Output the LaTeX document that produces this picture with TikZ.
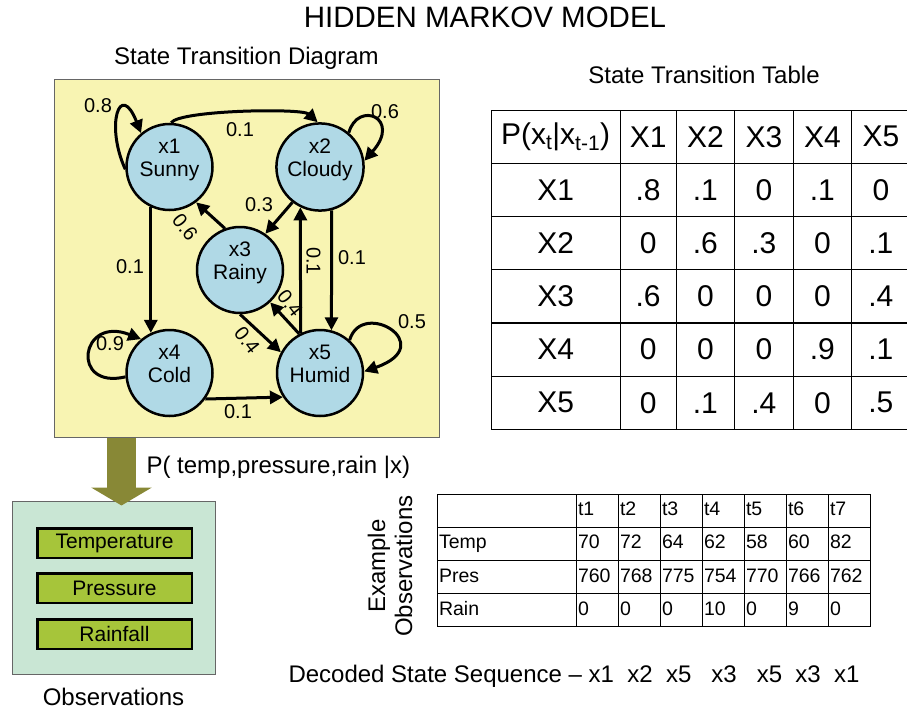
\documentclass[tikz,border=0pt]{standalone}
\usepackage{fontspec}
\setmainfont{Liberation Sans}
\usetikzlibrary{arrows.meta,matrix}

\definecolor{diagyellow}{RGB}{248,244,178}
\definecolor{stateblue}{RGB}{176,217,230}
\definecolor{obsmint}{RGB}{201,230,212}
\definecolor{obsgreen}{RGB}{166,197,58}
\definecolor{feedolive}{RGB}{136,136,54}

\tikzset{
	state/.style={circle, draw, line width=2.5pt, fill=stateblue, minimum size=86pt, inner sep=0pt,
		align=center, font=\fontsize{21}{23}\selectfont, text height=38pt, text depth=20pt},
	trans/.style={line width=3pt, -{Triangle[length=13pt,width=13pt]}},
	prob/.style={font=\fontsize{20}{22}\selectfont, inner sep=0pt},
	heading/.style={font=\fontsize{24}{27}\selectfont, anchor=base},
	obsbar/.style={draw, line width=2.5pt, fill=obsgreen, minimum width=154.5pt, minimum height=29.5pt,
		font=\fontsize{21}{23}\selectfont},
	feed/.style={line width=29pt, feedolive, -{Triangle[length=18pt,width=60pt]}}
}

\begin{document}
\begin{tikzpicture}[x=1pt, y=-1pt]
	\useasboundingbox (0,0) rectangle (907,709);

	% Overskrifter
	\node[font=\fontsize{29.5}{32}\selectfont, anchor=base] (title) at (485,28) {HIDDEN MARKOV MODEL};
	\node[heading] (diaghead) at (246.5,65) {State Transition Diagram};
	\node[heading] (tabhead) at (704,84) {State Transition Table};

	% Bakgrunn for diagrammet
	\node[draw=black!60, line width=1pt, fill=diagyellow, minimum width=385pt, minimum height=358pt] (diagbox) at (246.5,258) {};

	% Tilstander
	\node[state] (sunny) at (169.5,167) {x1\\Sunny};
	\node[state] (cloudy) at (320,167) {x2\\Cloudy};
	\node[state] (rainy) at (240,270) {x3\\Rainy};
	\node[state] (cold) at (169.5,373) {x4\\Cold};
	\node[state] (humid) at (320,373) {x5\\Humid};

	% Overganger
	\draw[trans] (sunny.183) .. controls (105,125) and (120,80) .. (sunny.130);
	\draw[trans] (sunny.88) .. controls (180,110) and (302,108) .. (cloudy.93);
	\draw[trans] (cloudy.50) .. controls (358,100) and (402,118) .. (cloudy.8);
	\draw[trans] (cloudy.232) -- (rainy.55);
	\draw[trans] (rainy.110) -- (sunny.307);
	\draw[trans] (sunny.245) -- (cold.115);
	\draw[trans] (humid.116) -- (cloudy.244);
	\draw[trans] (cloudy.285) -- (humid.75);
	\draw[trans] (rainy.270) -- (humid.152);
	\draw[trans] (humid.118) -- (rainy.313);
	\draw[trans] (cold.185) .. controls (70,390) and (80,315) .. (cold.130);
	\draw[trans] (humid.48) .. controls (362,298) and (440,345) .. (humid.2);
	\draw[trans] (cold.324) -- (humid.213);

	% Sannsynligheter
	\node[prob] (p11) at (98,106) {0.8};
	\node[prob] (p12) at (240,130) {0.1};
	\node[prob] (p22) at (385,112) {0.6};
	\node[prob] (p23) at (259,205) {0.3};
	\node[prob, rotate=-52] (p31) at (185,227) {0.6};
	\node[prob] (p14) at (130,267) {0.1};
	\node[prob, rotate=-90] (p52) at (313.5,261) {0.1};
	\node[prob] (p25) at (352,258) {0.1};
	\node[prob, rotate=-52] (p35) at (247,340) {0.4};
	\node[prob, rotate=-52] (p53) at (290,303) {0.4};
	\node[prob] (p44) at (110,344) {0.9};
	\node[prob] (p55) at (412,322) {0.5};
	\node[prob] (p45) at (238,412) {0.1};

	% Observasjoner
	\node[draw=black!60, line width=1pt, fill=obsmint, minimum width=203pt, minimum height=173pt] (obsbox) at (113.5,587.5) {};
	\node[obsbar] (temp) at (114.5,543) {Temperature};
	\node[obsbar] (pres) at (114.5,588) {Pressure};
	\node[obsbar] (rain) at (114.5,634) {Rainfall};
	\node[heading] (obshead) at (113.5,705) {Observations};

	% Emisjon
	\coordinate (feedx) at (121.5,0);
	\draw[feed] (diagbox.south -| feedx) -- ([yshift=-5pt]obsbox.north -| feedx);
	\node[heading, anchor=base west] (emission) at (143,473) {P( temp,pressure,rain |x)};

	% Overgangstabell
	\matrix (ptab) [matrix of nodes, anchor=north west, column sep=-1.2pt, row sep=-1.2pt,
		nodes={draw, line width=1.2pt, minimum height=53.2pt, minimum width=58.5pt, anchor=center,
			font=\fontsize{30}{32}\selectfont},
		column 1/.style={nodes={minimum width=129pt}},
		column 2/.style={nodes={minimum width=56pt}}] at (487,106) {
		P(x\textsubscript{t}|x\textsubscript{t-1}) & X1 & X2 & X3 & X4 & X5 \\
		X1 & .8 & .1 & 0 & .1 & 0 \\
		X2 & 0 & .6 & .3 & 0 & .1 \\
		X3 & .6 & 0 & 0 & 0 & .4 \\
		X4 & 0 & 0 & 0 & .9 & .1 \\
		X5 & 0 & .1 & .4 & 0 & .5 \\
	};

	% Eksempeldata
	\node[heading, anchor=center, rotate=90, align=center] (examplehead) at (390,566) {Example\\Observations};
	\matrix (obstab) [matrix of nodes, nodes in empty cells, anchor=north west, column sep=-1pt, row sep=-1pt,
		nodes={draw, line width=1pt, minimum height=33.2pt, text height=14pt, text depth=4pt,
			text width=38pt, inner xsep=2pt, align=left, font=\fontsize{19.5}{21}\selectfont},
		column 1/.style={nodes={text width=135pt}}] at (433,490) {
		     & t1  & t2  & t3  & t4  & t5  & t6  & t7  \\
		Temp & 70  & 72  & 64  & 62  & 58  & 60  & 82  \\
		Pres & 760 & 768 & 775 & 754 & 770 & 766 & 762 \\
		Rain & 0   & 0   & 0   & 10  & 0   & 9   & 0   \\
	};

	% Dekodet sekvens
	\node[heading, anchor=base west] (decoded) at (285,682) {Decoded State Sequence – x1\ \ x2\ \ x5\ \ \ x3\ \ \ x5\ \ x3\ \ x1};
\end{tikzpicture}
\end{document}
